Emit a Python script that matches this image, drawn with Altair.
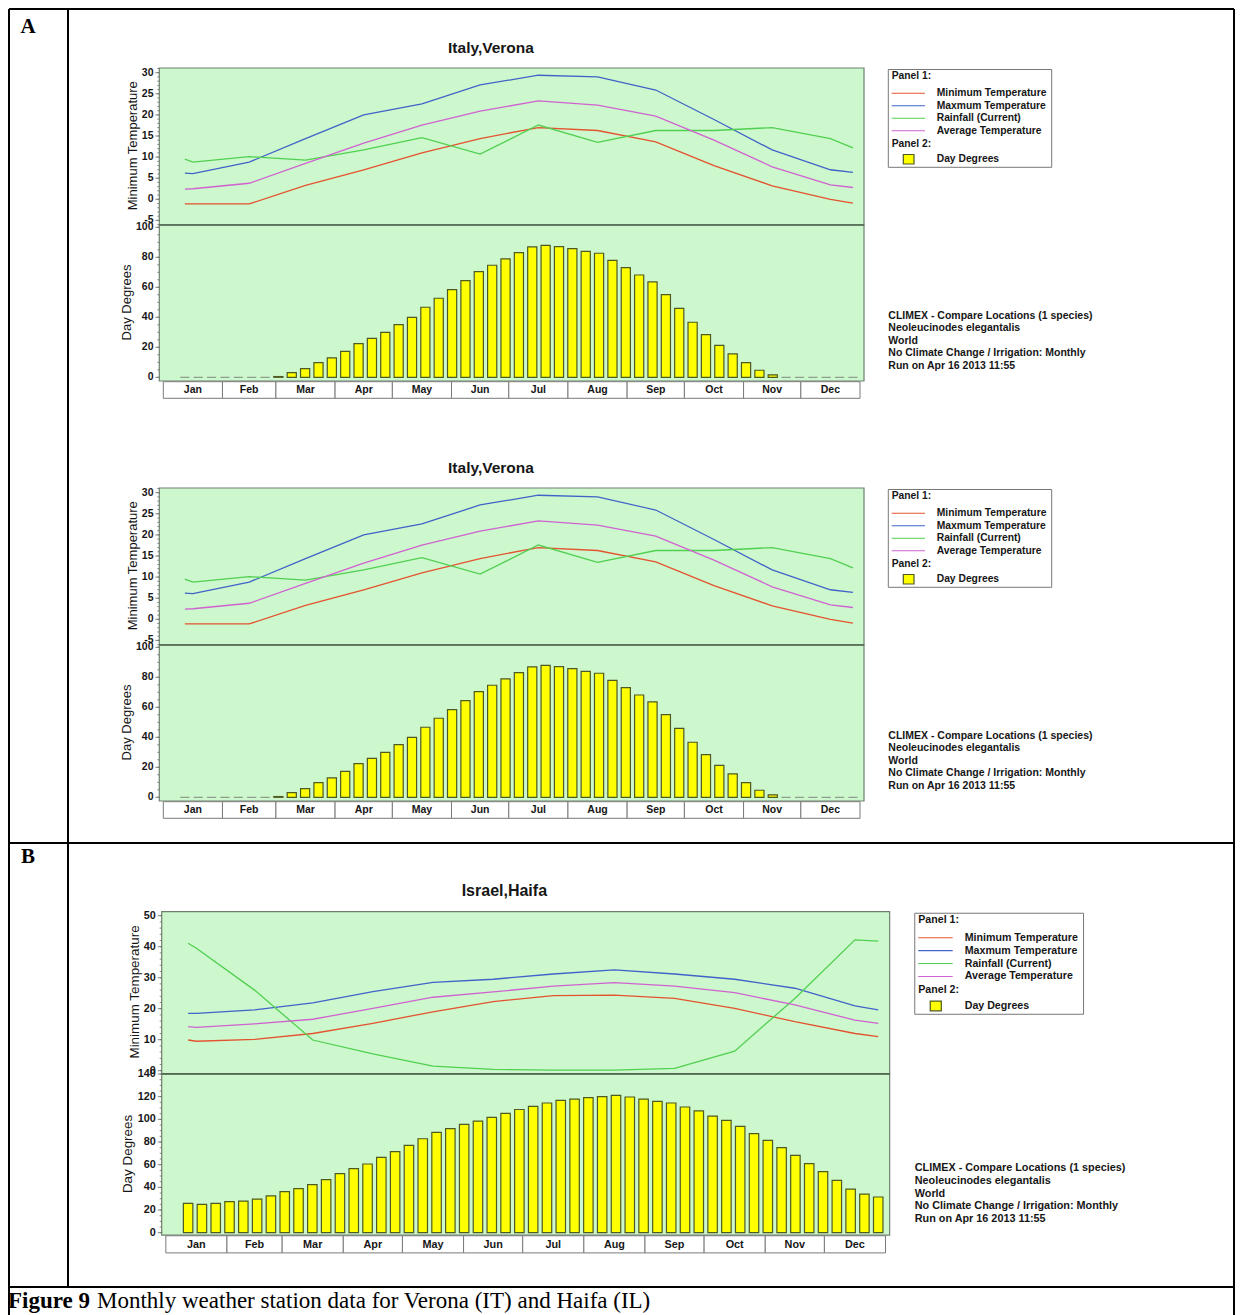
import altair as alt
import pandas as pd

# ---------------- data ----------------
MONTHS = ["Jan", "Feb", "Mar", "Apr", "May", "Jun", "Jul", "Aug", "Sep", "Oct", "Nov", "Dec"]
MONTH_DAYS = [31, 28, 31, 30, 31, 30, 31, 31, 30, 31, 30, 31]

SERIES = ["Minimum Temperature", "Maxmum Temperature", "Rainfall (Current)", "Average Temperature"]
SERIES_COLORS = ["#e4532f", "#3f63c9", "#50d050", "#d062d0"]

# day-of-year of the vertices of the Panel 1 curves
LINE_DAYS = [11.3, 15.5, 45, 74.5, 105, 135.5, 166, 196.5, 227.5, 258, 288.5, 319, 349.5, 361.3]

VERONA_MIN = [-1.1, -1.1, -1.1, 3.3, 7.0, 11.0, 14.4, 17.0, 16.3, 13.6, 8.0, 3.2, 0.0, -0.9]
VERONA_MAX = [6.2, 6.1, 8.8, 14.4, 20.0, 22.6, 27.1, 29.4, 29.0, 25.9, 18.9, 11.7, 7.0, 6.4]
VERONA_RAIN = [9.5, 8.8, 10.1, 9.3, 11.7, 14.6, 10.7, 17.6, 13.5, 16.3, 16.3, 17.0, 14.4, 12.2]
VERONA_AVG = [2.4, 2.5, 3.8, 8.5, 13.3, 17.6, 20.9, 23.3, 22.3, 19.7, 14.0, 7.7, 3.4, 2.8]

HAIFA_MIN = [9.9, 9.5, 10.1, 12.0, 15.3, 19.0, 22.3, 24.2, 24.4, 23.3, 20.1, 15.8, 12.0, 11.0]
HAIFA_MAX = [18.5, 18.5, 19.6, 21.9, 25.5, 28.5, 29.5, 31.2, 32.5, 31.2, 29.5, 26.6, 20.9, 19.6]
HAIFA_RAIN = [41.1, 39.5, 26.0, 9.9, 5.4, 1.5, 0.4, 0.2, 0.2, 0.75, 6.3, 23.3, 42.2, 41.8]
HAIFA_AVG = [14.2, 14.0, 15.1, 16.6, 20.1, 23.7, 25.4, 27.3, 28.4, 27.3, 25.2, 21.2, 16.3, 15.3]

# weekly day degrees (51 weeks)
WEEKS = list(range(1, 52))
VERONA_DD = [0, 0, 0, 0, 0, 0, 0, 0.5, 3.1, 5.8, 9.8, 12.9, 17.3, 22.4, 26, 30, 35.1, 40,
             46.7, 52.7, 58.4, 64.4, 70.4, 74.7, 78.9, 83.1, 86.9, 88, 87.1, 85.8, 84, 82.7,
             78, 73.1, 68.2, 63.6, 55.1, 46, 36.7, 28.4, 21.3, 15.6, 9.8, 4.7, 1.6,
             0, 0, 0, 0, 0, 0]
HAIFA_DD = [25.9, 25, 25.9, 27.4, 27.9, 29.7, 32.4, 36.2, 38.8, 42.4, 46.8, 52.1, 56.5,
            60.6, 66.5, 71.5, 77.1, 82.9, 88.5, 91.8, 95.6, 98.5, 101.8, 105.2, 108.7,
            111.5, 114.4, 116.8, 117.8, 119.1, 120, 121.2, 119.7, 117.9, 115.9, 114.4,
            110.9, 107.4, 102.9, 99.1, 93.8, 87.4, 81.5, 75, 68.2, 60.9, 53.8, 46.2,
            38.5, 34.1, 31.5]

TEMP_TICKS_A = [30, 25, 20, 15, 10, 5, 0, -5]
DD_TICKS_A = [100, 80, 60, 40, 20, 0]
TEMP_TICKS_B = [50, 40, 30, 20, 10, 0]
DD_TICKS_B = [140, 120, 100, 80, 60, 40, 20, 0]

INFO_LINES = ["CLIMEX - Compare Locations (1 species)", "Neoleucinodes elegantalis", "World",
              "No Climate Change / Irrigation: Monthly", "Run on Apr 16 2013 11:55"]

CAPTION_BOLD = "Figure 9"
CAPTION_TEXT = "Monthly weather station data for Verona (IT) and Haifa (IL)"

# ---------------- styles ----------------
SANS = "Liberation Sans"
SERIF = "Liberation Serif"
GREEN_BG = "#cdf7cd"
PLOT_EDGE = "#6f806f"
DIVIDER = "#4f684f"
BAR_FILL = "#ffff00"
BAR_EDGE = "#4d5a22"
ZERO_EDGE = "#8e9e8e"
TXT = "#161616"
OFF = 8.0
ONE = pd.DataFrame({"k": [0]})


def text_at(x, y, txt, size, weight="normal", align="left", angle=0, font=SANS,
            color=TXT, baseline="middle"):
    return alt.Chart(ONE).mark_text(text=txt, fontSize=size, fontWeight=weight, align=align,
                                    baseline=baseline, angle=angle, font=font,
                                    color=color).encode(x=alt.value(x), y=alt.value(y))


def rect_at(x0, y0, x1, y1, fill, stroke=None, sw=1.0):
    kw = dict(fill=fill)
    if stroke:
        kw.update(stroke=stroke, strokeWidth=sw)
    return alt.Chart(ONE).mark_rect(**kw).encode(
        x=alt.value(x0), x2=alt.value(x1), y=alt.value(y0), y2=alt.value(y1))


def rule_at(x0, y0, x1, y1, color, sw):
    return alt.Chart(ONE).mark_rule(color=color, strokeWidth=sw).encode(
        x=alt.value(x0), x2=alt.value(x1), y=alt.value(y0), y2=alt.value(y1))


def panel(ox, oy, s, title, mins, maxs, rain, avg, dd, top_map, bot_map,
          top_ticks, bot_ticks, top_minor, bot_minor):
    X = lambda r: ox + r * s - OFF
    Y = lambda r: oy + r * s - OFF
    W, HT, HB = 704.7, 157.0, 313.0
    out = []

    xs = alt.Scale(domain=[0, 365], range=[X(4.0), X(700.7)], zero=False, nice=False)
    ys_t = alt.Scale(domain=[top_map[0], top_map[2]],
                     range=[top_map[1] - OFF, top_map[3] - OFF], zero=False, nice=False)
    ys_b = alt.Scale(domain=[bot_map[0], bot_map[2]],
                     range=[bot_map[1] - OFF, bot_map[3] - OFF], zero=False, nice=False)

    # plot backgrounds
    out.append(rect_at(X(0), Y(0), X(W), Y(HT), GREEN_BG, PLOT_EDGE, 1.2))
    out.append(rect_at(X(0), Y(HT), X(W), Y(HB), GREEN_BG, PLOT_EDGE, 1.2))
    out.append(rule_at(X(0), Y(HT), X(W), Y(HT), DIVIDER, 1.6))

    # ticks
    for vals, ysc, ln in [(top_minor, ys_t, 2), (bot_minor, ys_b, 2),
                          (top_ticks, ys_t, 4), (bot_ticks, ys_b, 4)]:
        out.append(alt.Chart(pd.DataFrame({"v": vals})).mark_rule(
            color="#667066", strokeWidth=0.8).encode(
            y=alt.Y("v:Q", scale=ysc, axis=None),
            x=alt.value(X(0) - ln), x2=alt.value(X(0))))
    for vals, ysc in [(top_ticks, ys_t), (bot_ticks, ys_b)]:
        out.append(alt.Chart(pd.DataFrame({"v": vals, "lab": [str(v) for v in vals]})).mark_text(
            align="right", baseline="middle", fontSize=10.5 * s, fontWeight="bold",
            font=SANS, color=TXT).encode(
            y=alt.Y("v:Q", scale=ysc, axis=None), x=alt.value(X(-5.8)), text="lab:N"))

    # curves (Panel 1)
    rows = []
    for name, vals in zip(SERIES, [mins, maxs, rain, avg]):
        for d, v in zip(LINE_DAYS, vals):
            rows.append({"day": d, "v": v, "series": name})
    out.append(alt.Chart(pd.DataFrame(rows)).mark_line(strokeWidth=1.3).encode(
        x=alt.X("day:Q", scale=xs, axis=None),
        y=alt.Y("v:Q", scale=ys_t, axis=None),
        color=alt.Color("series:N", scale=alt.Scale(domain=SERIES, range=SERIES_COLORS),
                        legend=None),
        detail="series:N"))

    # weekly bars (Panel 2)
    days = [11.3 + 7 * (w - 1) for w in WEEKS]
    bars = pd.DataFrame({"w": WEEKS, "v": dd,
                         "x0": [d - 2.4 for d in days], "x1": [d + 2.4 for d in days],
                         "base": [0] * len(WEEKS)})
    out.append(alt.Chart(bars).mark_rect(fill=BAR_FILL, strokeWidth=1.2).encode(
        x=alt.X("x0:Q", scale=xs, axis=None), x2="x1:Q",
        y=alt.Y("v:Q", scale=ys_b, axis=None), y2="base:Q",
        stroke=alt.condition(alt.datum.v == 0, alt.value(ZERO_EDGE), alt.value(BAR_EDGE))))

    # month boxes
    starts, acc = [], 0
    for n in MONTH_DAYS:
        starts.append(acc)
        acc += n
    mdf = pd.DataFrame({"m": MONTHS, "start": starts,
                        "end": [a + n for a, n in zip(starts, MONTH_DAYS)],
                        "mid": [a + n / 2 for a, n in zip(starts, MONTH_DAYS)]})
    out.append(alt.Chart(mdf).mark_rect(fill="white", stroke="#7a7a7a", strokeWidth=1).encode(
        x=alt.X("start:Q", scale=xs, axis=None), x2="end:Q",
        y=alt.value(Y(313.7)), y2=alt.value(Y(330.3))))
    out.append(alt.Chart(mdf).mark_text(fontSize=10.5 * s, fontWeight="bold", font=SANS,
                                        color=TXT, baseline="middle").encode(
        x=alt.X("mid:Q", scale=xs, axis=None), y=alt.value(Y(322.2)), text="m:N"))

    # titles
    out.append(text_at(X(331.7), Y(-19.7), title, 15.5 * s, "bold", "center"))
    out.append(text_at(X(-26.3), Y(77.7), "Minimum Temperature", 13 * s, angle=270,
                       align="center"))
    out.append(text_at(X(-32.3), Y(234.5), "Day Degrees", 13 * s, angle=270, align="center"))

    # legend
    out.append(rect_at(X(729), Y(1.5), X(892.4), Y(99.3), "white", "#777777", 1))
    out.append(text_at(X(732.4), Y(7.6), "Panel 1:", 10.3 * s, "bold"))
    for i, (name, col) in enumerate(zip(SERIES, SERIES_COLORS)):
        yy = 25.2 + 12.5 * i
        out.append(rule_at(X(732.4), Y(yy), X(765.7), Y(yy), col, 1.1))
        out.append(text_at(X(777.4), Y(yy), name, 10.3 * s, "bold"))
    out.append(text_at(X(732.4), Y(75.7), "Panel 2:", 10.3 * s, "bold"))
    out.append(rect_at(X(744), Y(86.5), X(754.7), Y(96), BAR_FILL, BAR_EDGE, 1.2))
    out.append(text_at(X(777.4), Y(91), "Day Degrees", 10.3 * s, "bold"))

    # run information
    for i, line in enumerate(INFO_LINES):
        out.append(text_at(X(729), Y(248 + 12.4 * i), line, 10.5 * s, "bold"))
    return out


layers = []

# table frame of the figure
layers.append(rule_at(1, 1, 1226, 1, "black", 2))
layers.append(rule_at(1, 1, 1, 1307, "black", 2))
layers.append(rule_at(1226, 1, 1226, 1307, "black", 2))
layers.append(rule_at(1, 835, 1226, 835, "black", 2))
layers.append(rule_at(1, 1279, 1226, 1279, "black", 2))
layers.append(rule_at(60, 1, 60, 1279, "black", 2))
layers.append(text_at(20, 19, "A", 21, "bold", "center", font=SERIF, color="black"))
layers.append(text_at(20, 849, "B", 21, "bold", "center", font=SERIF, color="black"))
layers.append(text_at(0, 1300, CAPTION_BOLD, 23, "bold", "left", font=SERIF, color="black",
                      baseline="alphabetic"))
layers.append(text_at(89, 1300, CAPTION_TEXT, 23, "normal", "left", font=SERIF, color="black",
                      baseline="alphabetic"))

layers += panel(159.3, 68.0, 1.0, "Italy,Verona", VERONA_MIN, VERONA_MAX, VERONA_RAIN,
                VERONA_AVG, VERONA_DD, (0, 199.3, 30, 72.7), (0, 377.3, 100, 227.3),
                TEMP_TICKS_A, DD_TICKS_A, list(range(-6, 32)), list(range(0, 101, 5)))
layers += panel(159.3, 488.0, 1.0, "Italy,Verona", VERONA_MIN, VERONA_MAX, VERONA_RAIN,
                VERONA_AVG, VERONA_DD, (0, 619.3, 30, 492.7), (0, 797.3, 100, 647.3),
                TEMP_TICKS_A, DD_TICKS_A, list(range(-6, 32)), list(range(0, 101, 5)))
layers += panel(161.7, 911.7, 1.033, "Israel,Haifa", HAIFA_MIN, HAIFA_MAX, HAIFA_RAIN,
                HAIFA_AVG, HAIFA_DD, (0, 1070.7, 50, 915.7), (0, 1232.7, 140, 1074.0),
                TEMP_TICKS_B, DD_TICKS_B, list(range(0, 52, 2)), list(range(0, 141, 5)))

chart = alt.layer(*layers).resolve_scale(x="independent", y="independent").properties(
    width=1227, height=1307, padding=0, autosize=alt.AutoSizeParams(type="none")
).configure_view(stroke=None)

chart.save("out.html", embed_options={"renderer": "svg", "actions": False})
